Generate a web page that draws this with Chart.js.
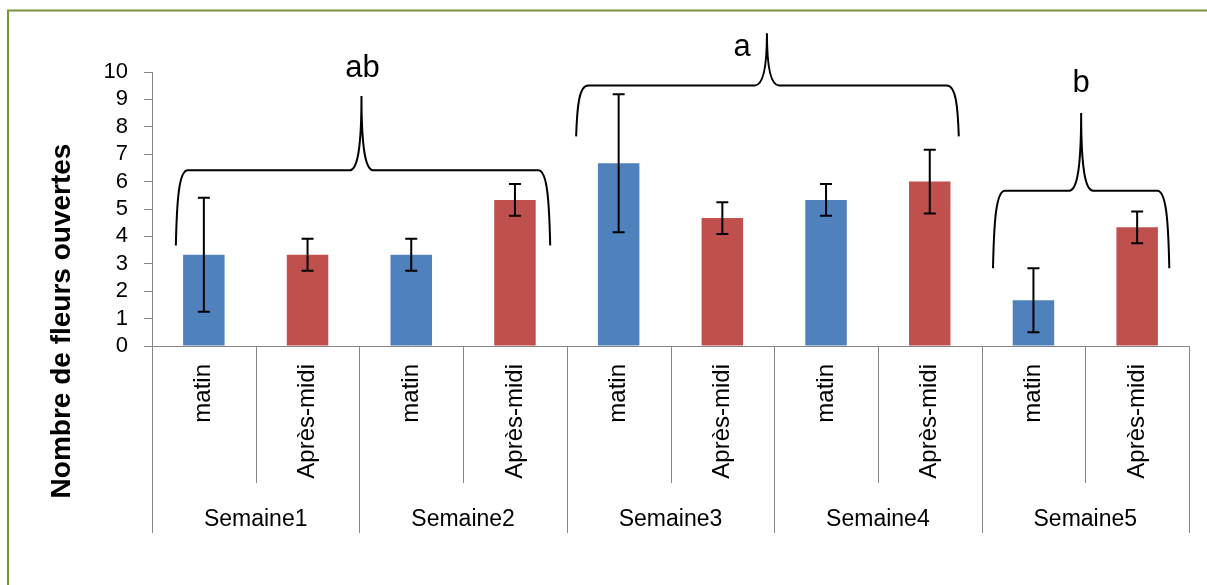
<!DOCTYPE html>
<html>
<head>
<meta charset="utf-8">
<script src="https://cdn.jsdelivr.net/npm/chart.js@4.4.0/dist/chart.umd.min.js"></script>
<style>
  html, body { margin: 0; padding: 0; background: #fff; overflow: hidden; }
  #wrap { width: 1207px; height: 585px; position: relative; }
</style>
</head>
<body>
<div id="wrap"><canvas id="graphique"></canvas></div>
<script>
// Données
const semaines = ['Semaine1', 'Semaine2', 'Semaine3', 'Semaine4', 'Semaine5'];
const periodes = ['matin', 'Après-midi', 'matin', 'Après-midi', 'matin', 'Après-midi', 'matin', 'Après-midi', 'matin', 'Après-midi'];
const moyennes = [3.33, 3.33, 3.33, 5.33, 6.67, 4.67, 5.33, 6.00, 1.67, 4.33];
const erreurs = [2.08, 0.58, 0.58, 0.58, 2.52, 0.58, 0.58, 1.16, 1.17, 0.58];
const graduations = [0, 1, 2, 3, 4, 5, 6, 7, 8, 9, 10];

// Accolades des groupes statistiques (en unités des axes)
const accolades = [
  { lettre: 'ab', debut: -0.27, fin: 3.34, centre: 1.52, bas: 3.67, trait: 6.41, pointe: 9.12, lx: 1.53, ly: 10.13 },
  { lettre: 'a', debut: 3.59, fin: 7.28, centre: 5.43, bas: 7.65, trait: 9.51, pointe: 11.41, lx: 5.19, ly: 10.9 },
  { lettre: 'b', debut: 7.61, fin: 9.31, centre: 8.46, bas: 2.84, trait: 5.67, pointe: 8.5, lx: 8.46, ly: 9.59 }
];

const police = 'Liberation Sans, Arial, sans-serif';
const gris = '#868686';

const barresErreur = {
  id: 'barresErreur',
  afterDatasetsDraw(chart) {
    const { ctx, scales: { y } } = chart;
    const meta = chart.getDatasetMeta(0);
    ctx.save();
    ctx.strokeStyle = '#000';
    ctx.lineWidth = 2;
    meta.data.forEach((bar, i) => {
      const haut = y.getPixelForValue(moyennes[i] + erreurs[i]);
      const bas = y.getPixelForValue(moyennes[i] - erreurs[i]);
      ctx.beginPath();
      ctx.moveTo(bar.x, haut); ctx.lineTo(bar.x, bas);
      ctx.moveTo(bar.x - 6, haut); ctx.lineTo(bar.x + 6, haut);
      ctx.moveTo(bar.x - 6, bas); ctx.lineTo(bar.x + 6, bas);
      ctx.stroke();
    });
    ctx.restore();
  }
};

const decor = {
  id: 'decor',
  beforeDraw(chart) {
    const ctx = chart.ctx;
    ctx.save();
    ctx.fillStyle = '#fff';
    ctx.fillRect(0, 0, chart.width, chart.height);
    // cadre vert (seuls les bords gauche et haut sont visibles)
    ctx.strokeStyle = '#77933C';
    ctx.lineWidth = 2;
    ctx.beginPath();
    ctx.moveTo(8, chart.height + 5);
    ctx.lineTo(8, 10.5);
    ctx.lineTo(chart.width + 5, 10.5);
    ctx.stroke();
    ctx.restore();
  },
  afterDraw(chart) {
    const { ctx, chartArea, scales: { x, x2, y } } = chart;
    ctx.save();

    // séparateurs de l'axe des catégories
    ctx.strokeStyle = gris;
    ctx.lineWidth = 1;
    for (let i = 0; i <= periodes.length; i++) {
      const px = Math.round(x.getPixelForValue(i - 0.5)) + 0.5;
      const fin = i % 2 === 0 ? x2.bottom : x.bottom;
      ctx.beginPath();
      ctx.moveTo(px, chartArea.bottom);
      ctx.lineTo(px, fin);
      ctx.stroke();
    }

    // titre de l'axe vertical
    ctx.fillStyle = '#000';
    ctx.font = 'bold 28px ' + police;
    ctx.textAlign = 'center';
    ctx.textBaseline = 'middle';
    ctx.translate(62, 321);
    ctx.rotate(-Math.PI / 2);
    ctx.fillText('Nombre de fleurs ouvertes', 0, 0);
    ctx.setTransform(1, 0, 0, 1, 0, 0);

    // accolades et lettres
    ctx.strokeStyle = '#000';
    ctx.lineWidth = 2;
    ctx.font = '31px ' + police;
    accolades.forEach(a => {
      const xl = x.getPixelForValue(a.debut);
      const xr = x.getPixelForValue(a.fin);
      const xc = x.getPixelForValue(a.centre);
      const yb = y.getPixelForValue(a.bas);
      const yh = y.getPixelForValue(a.trait);
      const yp = y.getPixelForValue(a.pointe);
      const r = 12;
      ctx.beginPath();
      ctx.moveTo(xl, yb);
      ctx.bezierCurveTo(xl + 1, yb - 0.6 * (yb - yh), xl + 3, yh, xl + r, yh);
      ctx.lineTo(xc - r, yh);
      ctx.bezierCurveTo(xc - 4, yh, xc, yh - 0.3 * (yh - yp), xc, yp);
      ctx.bezierCurveTo(xc, yh - 0.3 * (yh - yp), xc + 4, yh, xc + r, yh);
      ctx.lineTo(xr - r, yh);
      ctx.bezierCurveTo(xr - 3, yh, xr - 1, yb - 0.6 * (yb - yh), xr, yb);
      ctx.stroke();
      ctx.fillText(a.lettre, x.getPixelForValue(a.lx), y.getPixelForValue(a.ly));
    });
    ctx.restore();
  }
};

new Chart(document.getElementById('graphique'), {
  type: 'bar',
  data: {
    labels: periodes,
    datasets: [{
      data: moyennes,
      backgroundColor: periodes.map(p => p === 'matin' ? '#4F81BD' : '#C0504D'),
      barPercentage: 0.4,
      categoryPercentage: 1.0
    }]
  },
  options: {
    responsive: true,
    maintainAspectRatio: false,
    animation: false,
    layout: { padding: { top: 72, right: 18, bottom: 52, left: 0 } },
    plugins: { legend: { display: false }, tooltip: { enabled: false } },
    scales: {
      x: {
        type: 'category',
        offset: true,
        weight: 0,
        afterFit: s => { s.height = 137; },
        grid: { display: false },
        border: { display: true, color: gris, width: 1 },
        ticks: {
          autoSkip: false,
          minRotation: 90,
          maxRotation: 90,
          padding: 10,
          color: '#000',
          font: { family: police, size: 24 }
        }
      },
      x2: {
        type: 'category',
        position: 'bottom',
        labels: semaines,
        offset: true,
        weight: 1,
        afterFit: s => { s.height = 50; },
        grid: { display: false },
        border: { display: false },
        ticks: {
          padding: 15,
          color: '#000',
          font: { family: police, size: 23 }
        }
      },
      y: {
        min: 0,
        max: 10,
        afterFit: s => { s.width = 152; },
        afterBuildTicks: s => { s.ticks = graduations.map(v => ({ value: v })); },
        grid: { drawOnChartArea: false, tickLength: 8, color: gris },
        border: { display: true, color: gris, width: 1 },
        ticks: {
          autoSkip: false,
          stepSize: 1,
          padding: 16,
          color: '#000',
          font: { family: police, size: 22 }
        }
      }
    }
  },
  plugins: [barresErreur, decor]
});
</script>
</body>
</html>
